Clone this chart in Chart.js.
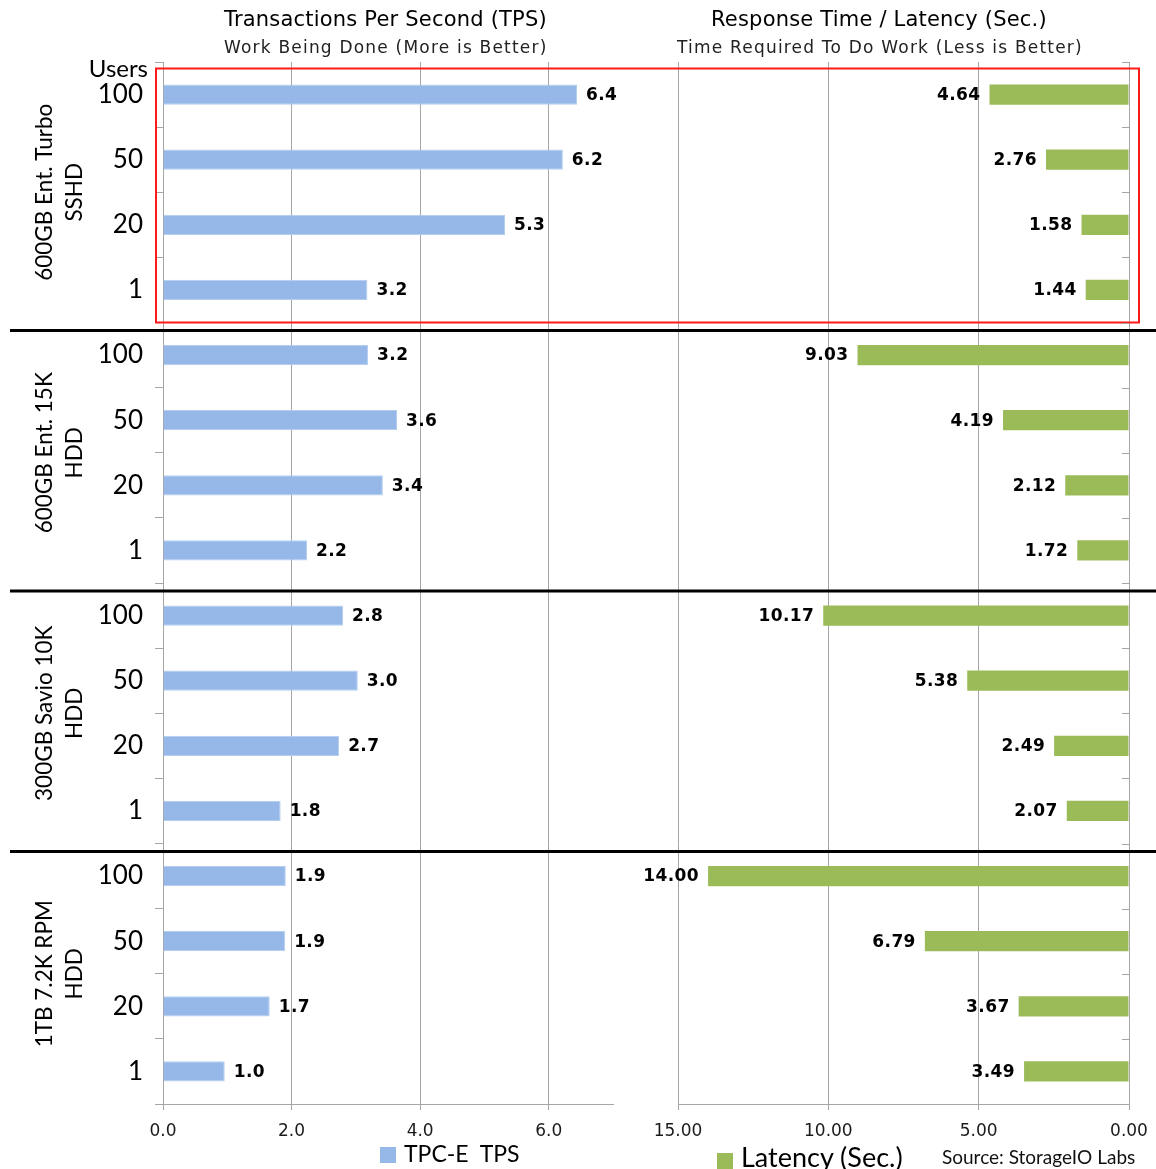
<!DOCTYPE html>
<html>
<head>
<meta charset="utf-8">
<script src="https://cdn.jsdelivr.net/npm/chart.js@4/dist/chart.umd.min.js"></script>
<style>
  body { margin: 0; background: #fff; }
  #wrap { position: relative; width: 1156px; height: 1169px; overflow: hidden; }
  canvas { position: absolute; top: 0; }
  .txt { position: absolute; white-space: nowrap; color: #000; }
  .ttl { font-family: "DejaVu Sans", sans-serif; font-size: 21px; letter-spacing: 0.2px; }
  .sub { font-family: "DejaVu Sans", sans-serif; font-size: 17px; letter-spacing: 1.2px; color: #222; }
  .leg { font-family: Lato, sans-serif; }
  .sq { display: inline-block; width: 16px; height: 16px; margin-right: 8px; vertical-align: -1px; }
</style>
</head>
<body>
<div id="wrap">
  <canvas id="tpsChart" style="left:0" width="645" height="1169"></canvas>
  <canvas id="latChart" style="left:645px" width="511" height="1169"></canvas>

  <div class="txt ttl" style="left:224px;top:7px">Transactions Per Second (TPS)</div>
  <div class="txt sub" style="left:224px;top:37px">Work Being Done (More is Better)</div>
  <div class="txt ttl" style="left:711px;top:7px">Response Time / Latency (Sec.)</div>
  <div class="txt sub" style="left:677px;top:37px">Time Required To Do Work (Less is Better)</div>

  <div class="txt leg" style="left:380px;top:1139px;font-size:23px"><span class="sq" style="background:#95b8e8"></span>TPC-E&nbsp; TPS</div>
  <div class="txt leg" style="left:717px;top:1140px;font-size:27px"><span class="sq" style="background:#9bbb59;vertical-align:-2px"></span>Latency (Sec.)</div>
  <div class="txt" style="left:942px;top:1145px;font-family:Lato,sans-serif;font-size:19px;color:#111">Source: StorageIO Labs</div>
</div>

<script>
// drives tested and users per run
var drives = [
    ["600GB Ent. Turbo", "SSHD"],
    ["600GB Ent. 15K", "HDD"],
    ["300GB Savio 10K", "HDD"],
    ["1TB 7.2K RPM", "HDD"]
];
var users = ["100", "50", "20", "1"];

// TPC-E transactions per second, per drive (100, 50, 20, 1 users)
// bar lengths, labels show one decimal
var tps = [
    [6.44, 6.22, 5.32, 3.18],
    [3.19, 3.64, 3.42, 2.24],
    [2.80, 3.03, 2.74, 1.83],
    [1.91, 1.90, 1.66, 0.96]
];

// latency in seconds, same order
var latency = [
    [4.64, 2.76, 1.58, 1.44],
    [9.03, 4.19, 2.12, 1.72],
    [10.17, 5.38, 2.49, 2.07],
    [14.00, 6.79, 3.67, 3.49]
];

var tpsTicks = [0, 7, 2];     // min, max, step
var latTicks = [0, 15, 5];

var labels = [];
drives.forEach(function(){ users.forEach(function(u){ labels.push(u); }); });
var tpsData = [].concat.apply([], tps);
var latData = [].concat.apply([], latency);

var gridColor = '#a6a6a6';
var tickFont = { family: 'DejaVu Sans', size: 17 };

// x axes: fixed height, no extra side padding for the end labels
function fitX(s) {
    s.height = 65;
    s.paddingLeft = 0;
    s.paddingRight = 0;
}

// separators, red box and value labels
function overlay(side, decimals) {
    return {
        id: 'overlay' + side,
        afterDraw: function(chart) {
            var ctx = chart.ctx;
            var y = chart.scales.y;
            var area = chart.chartArea;
            var W = chart.width;
            var step = y.getPixelForValue(1) - y.getPixelForValue(0);
            ctx.save();

            // value labels
            var meta = chart.getDatasetMeta(0);
            ctx.font = 'bold 17px "DejaVu Sans"';
            ctx.letterSpacing = '0.4px';
            ctx.fillStyle = '#000';
            ctx.textBaseline = 'middle';
            meta.data.forEach(function(bar, i) {
                var v = chart.data.datasets[0].data[i].toFixed(decimals);
                if (side === 'left') {
                    ctx.textAlign = 'left';
                    ctx.fillText(v, bar.x + 9, bar.y + 1);
                } else {
                    ctx.textAlign = 'right';
                    ctx.fillText(v, bar.x - 9, bar.y + 1);
                }
            });
            ctx.letterSpacing = '0px';

            // group separators
            ctx.strokeStyle = '#000';
            ctx.lineWidth = 3;
            for (var g = 1; g < drives.length; g++) {
                var sy = y.getPixelForValue(g * users.length) - step / 2 + 8;
                ctx.beginPath();
                ctx.moveTo(side === 'left' ? 10 : 0, sy);
                ctx.lineTo(W, sy);
                ctx.stroke();
            }

            // red highlight box around first drive
            var top = y.getPixelForValue(0) - step * 0.4;
            var bot = y.getPixelForValue(users.length) - step / 2;
            ctx.strokeStyle = '#ff1a1a';
            ctx.lineWidth = 2;
            ctx.beginPath();
            if (side === 'left') {
                var lx = area.left - 7;
                ctx.moveTo(W, top); ctx.lineTo(lx, top); ctx.lineTo(lx, bot); ctx.lineTo(W, bot);
            } else {
                var rx = area.right + 10;
                ctx.moveTo(0, top); ctx.lineTo(rx, top); ctx.lineTo(rx, bot); ctx.lineTo(0, bot);
            }
            ctx.stroke();

            if (side === 'left') {
                // users header
                ctx.font = '24px Lato';
                ctx.textAlign = 'right';
                ctx.textBaseline = 'middle';
                ctx.fillText('Users', area.left - 15, y.getPixelForValue(0) - 25);

                // rotated drive names
                ctx.font = '22.5px Lato';
                ctx.textAlign = 'center';
                drives.forEach(function(d, gi) {
                    var cy = (y.getPixelForValue(gi * 4) + y.getPixelForValue(gi * 4 + 3)) / 2;
                    ctx.save();
                    ctx.translate(45, cy);
                    ctx.rotate(-Math.PI / 2);
                    ctx.fillText(d[0], 0, 0);
                    ctx.fillText(d[1], 0, 30);
                    ctx.restore();
                });
            } else {
                // small inner ticks on the right axis
                ctx.strokeStyle = gridColor;
                ctx.lineWidth = 1;
                for (var k = 0; k <= labels.length; k++) {
                    var ty = Math.round(y.getPixelForValue(k) - step / 2) + 0.5;
                    ctx.beginPath();
                    ctx.moveTo(area.right - 7, ty);
                    ctx.lineTo(area.right, ty);
                    ctx.stroke();
                }
            }
            ctx.restore();
        }
    };
}

new Chart(document.getElementById('tpsChart'), {
    type: 'bar',
    data: {
        labels: labels,
        datasets: [{
            label: 'TPC-E TPS',
            data: tpsData,
            backgroundColor: '#95b8e8',
            borderColor: '#b4cdf0',
            borderWidth: 1,
            barPercentage: 0.31,
            categoryPercentage: 1
        }]
    },
    options: {
        indexAxis: 'y',
        responsive: false,
        animation: false,
        layout: { padding: { top: 62, right: 32, left: 0, bottom: 0 } },
        plugins: { legend: { display: false }, tooltip: { enabled: false } },
        scales: {
            x: {
                min: tpsTicks[0], max: tpsTicks[1],
                ticks: { stepSize: tpsTicks[2], includeBounds: false, font: tickFont, color: '#1a1a1a', padding: 11,
                         callback: function(v){ return v.toFixed(1); } },
                grid: { color: gridColor, tickLength: 6 },
                border: { color: gridColor },
                afterFit: fitX
            },
            y: {
                ticks: { font: { family: 'Lato', size: 26 }, color: '#000', padding: 12 },
                grid: { offset: true, drawOnChartArea: false, tickLength: 8, color: gridColor },
                border: { color: gridColor },
                afterFit: function(s){ s.width = 163; }
            }
        }
    },
    plugins: [overlay('left', 1)]
});

new Chart(document.getElementById('latChart'), {
    type: 'bar',
    data: {
        labels: labels,
        datasets: [{
            label: 'Latency (Sec.)',
            data: latData,
            backgroundColor: '#9bbb59',
            borderWidth: 0,
            barPercentage: 0.31,
            categoryPercentage: 1
        }]
    },
    options: {
        indexAxis: 'y',
        responsive: false,
        animation: false,
        layout: { padding: { top: 62, right: 0, left: 33, bottom: 0 } },
        plugins: { legend: { display: false }, tooltip: { enabled: false } },
        scales: {
            x: {
                reverse: true,
                min: latTicks[0], max: latTicks[1],
                ticks: { stepSize: latTicks[2], font: tickFont, color: '#1a1a1a', padding: 11,
                         callback: function(v){ return v.toFixed(2); } },
                grid: { color: gridColor, tickLength: 6 },
                border: { color: gridColor },
                afterFit: fitX
            },
            y: {
                position: 'right',
                ticks: { display: false },
                grid: { drawOnChartArea: false, drawTicks: false },
                border: { color: gridColor },
                afterFit: function(s){ s.width = 27; }
            }
        }
    },
    plugins: [overlay('right', 2)]
});
</script>
</body>
</html>
